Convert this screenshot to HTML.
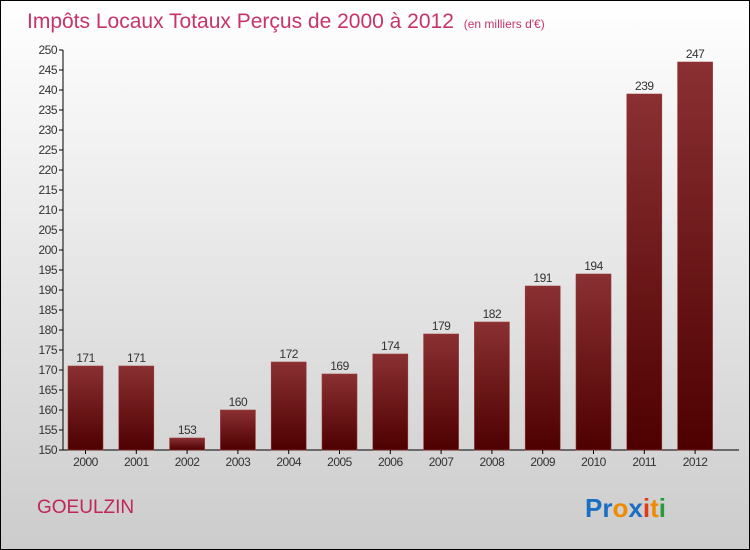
<!DOCTYPE html>
<html><head><meta charset="utf-8"><style>
body{margin:0}
#c{width:748px;height:548px;border:1px solid #000;position:relative;background:linear-gradient(#fff,#ccc);font-family:"Liberation Sans",sans-serif;overflow:hidden}
</style></head><body>
<div id="c">
<svg width="748" height="548" id="s">
<defs><linearGradient id="g" x1="0" y1="0" x2="0" y2="1"><stop offset="0" stop-color="#8a3033"/><stop offset="1" stop-color="#4e0000"/></linearGradient></defs>
<text x="26" y="27" font-size="21" fill="#c8336a">Impôts Locaux Totaux Perçus de 2000 à 2012 <tspan font-size="12" dx="4">(en milliers d'€)</tspan></text>
<text x="36" y="512" font-size="19" fill="#c0265a">GOEULZIN</text>
<text x="584" y="516" font-size="26" font-weight="bold"><tspan fill="#1a6fc4">Pr</tspan><tspan fill="#f08a00">o</tspan><tspan fill="#1a6fc4">x</tspan><tspan fill="#e23a12">i</tspan><tspan fill="#f08a00">t</tspan><tspan fill="#2a9a3a">i</tspan></text>
<g id="plot"></g>
</svg></div>
<script>
const years=["2000","2001","2002","2003","2004","2005","2006","2007","2008","2009","2010","2011","2012"];
const values=[171,171,153,160,172,169,174,179,182,191,194,239,247];
const yTicks=[150,155,160,165,170,175,180,185,190,195,200,205,210,215,220,225,230,235,240,245,250];
const NS="http://www.w3.org/2000/svg",p=document.getElementById('plot');
const y=v=>449-(v-150)*4, x=i=>67+i*50.8;
function mk(t,a,txt){const e=document.createElementNS(NS,t);for(const k in a)e.setAttribute(k,a[k]);if(txt!=null)e.textContent=txt;p.appendChild(e);return e;}
let e=mk('line',{x1:62,y1:49,x2:62,y2:449,stroke:'#000'});


e=mk('line',{x1:62,y1:449,x2:738,y2:449,stroke:'#000'});


yTicks.forEach(t=>{
 const tk=mk('line',{x1:58,x2:62,y1:y(t),y2:y(t),stroke:'#000'});
 
 
 const l=mk('text',{x:56,y:y(t)+4,'font-size':12,fill:'#333','text-anchor':'end','letter-spacing':'-0.5'},t);
 
 
});
years.forEach((yr,i)=>{
 const v=values[i];
 const r=mk('rect',{x:x(i),y:y(v),width:35,height:449-y(v),fill:'url(#g)',stroke:'#9a3a3a','stroke-width':0.6});
 
 
 const vl=mk('text',{x:x(i)+17.5,y:y(v)-4,'font-size':12,fill:'#333','text-anchor':'middle','letter-spacing':'-0.5'},v);
 
 
 const tk=mk('line',{x1:x(i)+17.5,x2:x(i)+17.5,y1:449,y2:453,stroke:'#000'});
 
 
 const xl=mk('text',{x:x(i)+17.5,y:465,'font-size':12,fill:'#333','text-anchor':'middle','letter-spacing':'-0.5'},yr);
 
 
});
</script>
</body></html>
